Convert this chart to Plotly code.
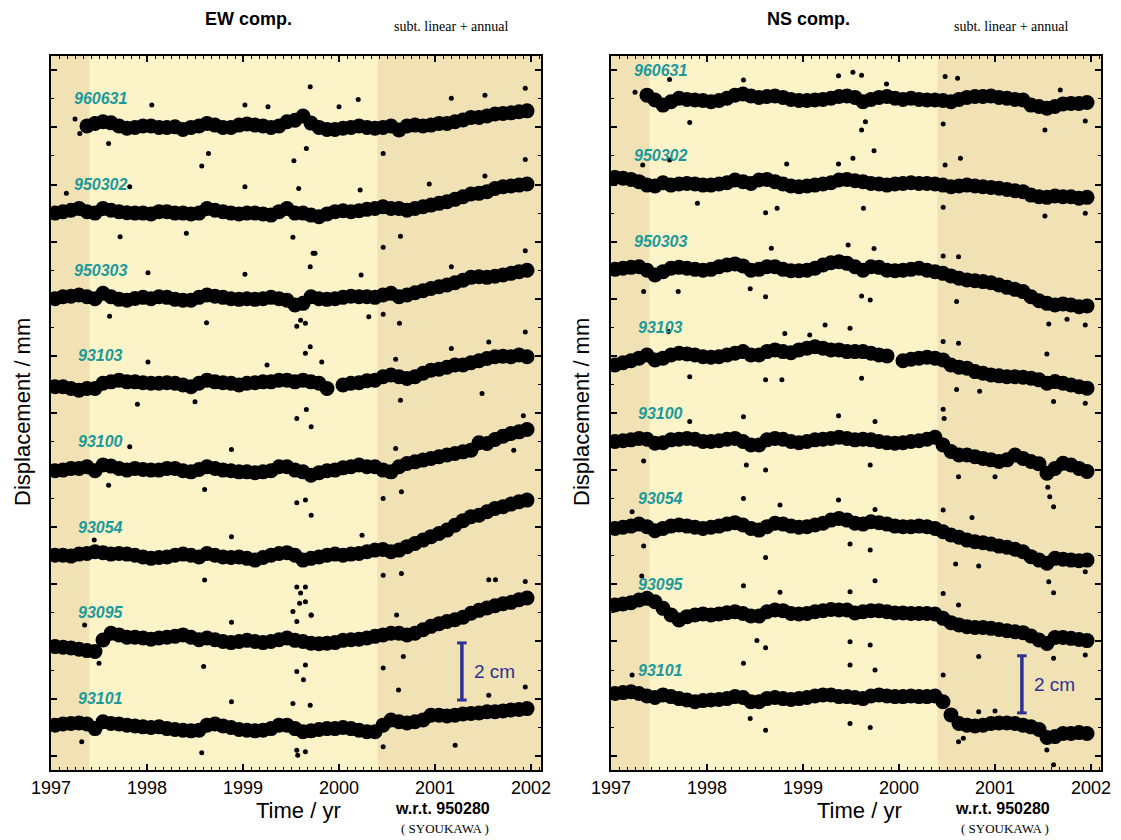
import plotly.graph_objects as go

# ---------------- data ----------------
stations = ["960631", "950302", "950303", "93103", "93100", "93054", "93095", "93101"]
ew_offsets = [220, 190, 160, 130, 100, 70, 40, 10]
ns_offsets = [230, 200, 170, 140, 110, 80, 50, 20]
year_ticks = [1997, 1998, 1999, 2000, 2001, 2002]
# monthly epochs (mid-month) 1997.0 - 2002.0
epochs = [1997 + (k + 0.5) / 12 for k in range(60)]

# EW component, monthly level, deviation (mm) from each station's offset
ew_960631 = [None, None, None, None, 0.5, 1.4, 2.0, 1.6, 0.5, -0.3,
             0.0, 0.5, 0.5, 0.0, 0.0, 0.2, -0.7, 0.0, 0.5, 1.4,
             0.8, 0.0, 0.0, 0.8, 1.2, 0.8, 0.5, 0.0, 0.5, 2.0,
             2.5, 4.0, 1.5, 0.0, -0.7, -0.7, -0.3, 0.0, 0.5, 0.0,
             -0.3, 0.0, 0.5, -0.9, 0.5, 0.8, 0.5, 0.8, 1.4, 1.4,
             2.0, 2.6, 3.5, 3.5, 4.0, 4.7, 4.9, 5.1, 5.5, 5.8]
ew_950302 = [0, 0.5, 1, 1.6, 0.5, 0, 1.6, 1, 0.5, 0.1,
             0, 0, -0.3, 0.5, 0.5, 0, 0, -0.3, 0, 1.6,
             1, 0.5, 0, -0.3, 0, 0, -0.3, -0.7, 0.5, 1.6,
             0, 0, -0.7, -1.3, -0.3, 0.5, 0.8, 0.5, 0.8, 1.3,
             1.6, 2.2, 1.6, 1.6, 1, 1.6, 2.2, 2.8, 3.4, 4,
             4.8, 5.7, 6.7, 6.9, 7.5, 8.6, 9.2, 9.5, 9.8, 10.2]
ew_950303 = [0, 0.7, 0.9, 1.3, 0.7, 0, 1.9, 0.7, -0.2, -0.5,
             0.1, 0.5, 0, 0.7, 0.5, -0.2, -0.5, -0.5, 0.5, 1.3,
             0.9, 0.5, 0, -0.2, 0, -0.2, 0, 0.5, 0, -0.5,
             -2.2, -1.6, 0.7, 0, -0.2, 0, 0.5, 0.9, 0.7, 0.7,
             0.5, 1.3, 1.9, 0.7, 1.3, 2.1, 2.8, 3.6, 4.2, 4.8,
             5.6, 6.5, 7.5, 7.7, 7.5, 7.9, 8.3, 8.9, 9.5, 10]
ew_93103 = [-0.8, -0.8, -1.4, -2, -1.4, -1.4, 0.4, 0.9, 1.5, 0.9,
            0.9, 0.6, 0.4, 0.4, 0.6, 0.4, -0.2, -0.8, 0.4, 1.5,
            0.9, 0.6, 0.4, -0.2, 0.4, 0.6, 0.9, 0.9, 1.5, 1.5,
            0.9, 1.5, 0.9, 0.4, -1.4, None, -0.2, 0.4, 0.6, 1.3,
            1.5, 2.7, 3.3, 2.7, 2.1, 2.7, 3.9, 5, 5.3, 6,
            6.8, 6.8, 7.6, 8.3, 9.1, 9.7, 9.9, 9.7, 10.3, 9.7]
ew_93100 = [-0.2, 0, 0.6, 0.6, 1.2, -0.2, 1.8, 1.4, 0.6, 0,
            0.6, 0.2, 0, 0, 0.6, 0.6, -0.2, -0.6, 0.2, 1.2,
            0.6, 0, -0.2, -0.6, -0.6, -0.9, -0.6, -0.2, 1.2, 1.2,
            0, -0.6, -1.8, -0.9, -0.2, 0, 0.8, 1.2, 1.8, 1.2,
            1.2, 0, -0.6, 1.2, 2.3, 2.9, 3.5, 4.1, 4.7, 5.3,
            5.8, 6.4, 7, 9.6, 9.3, 10.7, 11.9, 12.8, 13.4, 14.2]
ew_93054 = [0.2, 0.2, -0.1, 0.6, 0.8, 1.4, 1.1, 0.6, 0.8, 0.6,
            0.2, -0.4, -0.9, -0.6, -0.4, 0.2, 0.6, 0.2, -0.4, 0.8,
            0.2, -0.4, -0.6, -0.4, -0.9, -1.5, -0.6, 0.2, 0.8, 1.1,
            0.2, -1.5, -0.9, -0.4, 0.2, 0.6, 0.2, 0.6, 0.8, 1.4,
            2, 2.2, 1.4, 2, 3.2, 4.3, 5.5, 6.7, 7.8, 9,
            10.7, 12.3, 13.7, 14.2, 15.4, 16.6, 17.2, 18.1, 18.9, 19.5]
ew_93095 = [-1.8, -2, -2.3, -2.7, -3.2, -3.5, 0.5, 2.9, 2.3, 1.5,
            1.5, 1.2, 0.8, 1.2, 1.5, 1.8, 2.3, 1.5, 0.6, 1.2,
            0.6, 0, -0.4, 0, 0.4, 0, -0.4, 0, 0.6, 1.2,
            0.4, 0, -0.6, -0.8, -0.6, -0.4, 0.4, 0.6, 0.8, 1.2,
            1.8, 2.3, 2.9, 2.9, 2.3, 2.9, 4.1, 5.3, 6.2, 7,
            7.6, 8.5, 9.9, 10.9, 11.7, 12.5, 13.2, 13.7, 14.6, 15.2]
ew_93101 = [0.7, 1.1, 1.3, 1.5, 1.1, -0.5, 1.9, 1.3, 1.1, 0.7,
            0.4, 0.1, -0.1, 0.1, -0.5, -0.8, -1.1, -1.3, -1.1, 0.7,
            1.1, 0.4, -0.1, -0.8, -1.1, -1.3, -1.1, -0.5, 0.7, 0.7,
            -0.5, -1.6, -1.3, -0.8, -0.5, -0.5, -0.1, -0.5, -1.1, -1.6,
            -1.6, 0.7, 2.5, 1.9, 1.5, 1.9, 2.5, 4.2, 4.2, 3.9,
            4.2, 4.6, 4.8, 5, 5.4, 5.4, 5.7, 6, 6.2, 6.5]

# NS component, monthly level, deviation (mm) from each station's offset
ns_960631 = [None, None, None, None, 1.3, -0.4, -2.2, -1, 0.2, -0.2,
             -0.4, -0.6, -1, -0.6, 0.2, 1.3, 1.7, 1, 0.5, 0.8,
             1, 0.5, -0.2, -0.6, -0.6, -0.4, -0.2, 0.2, 0.8, 1,
             0.5, -1, -0.2, 0.5, 0.8, 0.2, -0.2, 0.2, -0.2, -0.4,
             -0.4, -0.6, -1, -0.2, 0.5, 0.8, 0.8, 1, 0.5, 0.2,
             -0.2, -0.4, -2.2, -2.7, -3.3, -2.7, -1.8, -1.6, -1.6, -1.3]
ns_950302 = [2.5, 2.2, 1.8, 1, -0.2, -0.5, 0.6, -0.2, 0.2, 0.4,
             0.2, -0.2, -0.2, 0.2, 0.6, 1.6, 1, 0.4, 1.6, 1.8,
             1, 0.2, -0.5, -0.8, -0.5, -0.2, 0.2, 0.6, 1.6, 1.8,
             1.3, 1, 0.4, 0.2, -0.2, 0.2, 0.4, 0.6, 0.4, 0.4,
             0.2, -0.2, -0.8, -0.5, -0.2, -0.5, -0.8, -1, -1.3, -1.7,
             -2.2, -2.5, -3.7, -4.3, -4.5, -4, -4.3, -4.3, -4.8, -4.5]
ns_950303 = [0.3, 0.7, 1, 1.2, 0, -1.7, -0.5, 0.7, 1, 0.7,
             0.3, 0, 0.3, 1.2, 1.8, 2.2, 1.5, 0, 0.3, 1.2,
             1.2, 0.3, -0.2, -0.2, 0, 0.7, 1.8, 2.6, 3, 2.4,
             1.2, 0, 1.2, 1, 0, -0.2, 0, 0.3, 0.7, 0,
             -0.5, -1.1, -2, -2.8, -3.4, -3.7, -4, -4.4, -5.2, -6,
             -6.7, -7.5, -9.3, -10.7, -11.6, -12.2, -11.8, -12.2, -12.8, -12.5]
ns_93103 = [-3.2, -2.4, -1.7, -0.8, 0.3, -1.4, -0.8, 0.3, 0.9, 0.7,
            0.3, -0.3, -0.5, -0.3, 0.3, 0.9, 1.5, 0.3, 0.3, 1.5,
            2.1, 1.5, 1.1, 2.1, 2.7, 3.2, 2.7, 2.1, 2.1, 1.5,
            1.5, 1.5, 0.9, 0.3, 0, None, -1.7, -1.2, -0.8, -0.5,
            -0.8, -1.4, -3.2, -4, -4.3, -5.5, -6.1, -6.7, -7, -7.3,
            -7.3, -7.5, -7.8, -8.4, -9.6, -9, -9.6, -10.2, -10.8, -11.3]
ns_93100 = [0, 0.3, 0.6, 1.1, 0.8, -0.6, -0.4, 0.6, 0.8, 1.1,
            0.8, 0, 0, 0.3, 0.8, 1.1, 0, -1.2, -1.2, 0.6,
            1.1, 0.8, 0, -0.4, 0, 0.6, 0.8, 1.1, 1.5, 1.1,
            0.6, 0.8, 0.6, 0, -0.4, -0.6, -0.4, 0, 0.3, 0.8,
            1.5, -1.2, -3.5, -4.7, -4.7, -5.3, -5.9, -6.4, -7, -6.4,
            -4.7, -5.9, -7, -7.8, -11.1, -9.4, -7.6, -8.2, -9.4, -10.5]
ns_93054 = [-0.4, 0, 0.4, 1.1, 0.2, -1.2, -0.4, 0.4, 0.8, 0.4,
            0, -0.4, 0, 0.4, 1.1, 1.6, 0.8, -0.4, -1, 0.2,
            1.4, 1.1, 0.4, 0, 0.2, 0.8, 1.4, 2.5, 3.1, 2.5,
            1.4, 1.1, 1.9, 1.6, 1.1, 0.4, 0.2, 0.2, 0.4, 0.2,
            -0.4, -1.6, -2.7, -3.5, -4.5, -5.1, -5.4, -5.9, -6.6, -7,
            -7.7, -8.6, -10.3, -11.5, -12.6, -10.9, -11.2, -11.5, -11.7, -11.5]
ns_93095 = [2.8, 3.1, 3.6, 4.5, 5.1, 3.9, 1.6, -0.7, -2.5, -1.3,
            -0.7, -0.4, -0.7, -0.4, 0.1, 0.4, -0.2, -1.1, -1.1, 0.4,
            1, 0.8, -0.2, -0.4, -0.2, 0.4, 0.8, 1.2, 1, 1,
            0, 0.4, 0.8, 0.8, 0.4, 0, 0, -0.2, -0.2, -0.2,
            -0.4, -1.9, -3.4, -4.2, -4.8, -5.1, -5.1, -5.4, -5.8, -6.2,
            -6.6, -6.9, -8.1, -9.5, -10.7, -8.6, -8.6, -8.9, -9.3, -9.7]
ns_93101 = [1.8, 2.1, 2.4, 1.8, 0.9, 0.4, 1.3, 0.7, 0, -0.5,
            -1.1, -0.7, -0.5, -0.3, 0, 0.7, 0.4, -1.1, -1.1, 0,
            0.4, 0, -0.3, 0, 0.4, 0.9, 1.3, 1.3, 0.7, 0.7,
            0.4, 0, 0.9, 1.3, 0.9, 0.7, 0.7, 0.9, 0.7, 0.7,
            0.9, -1.1, -5.7, -8.7, -9.3, -9.6, -9.3, -8.7, -8.5, -8.5,
            -8.7, -9.3, -9.9, -10.8, -13.6, -13.3, -12.2, -12.2, -11.9, -12.2]

# isolated outlying daily solutions: station, epoch, deviation (mm)
ew_out_stn = ["960631"] * 17 + ["950302"] * 14 + ["950303"] * 15 + ["93103"] * 13 \
    + ["93100"] * 15 + ["93054"] * 11 + ["93095"] * 17 + ["93101"] * 13
ew_out_t = [1999.70, 1999.53, 1998.57, 2000.46, 1997.25, 1997.30, 2000.20, 2001.94, 2001.52, 2001.17,
            1999.26, 1998.05, 1998.64, 1999.66, 1997.60, 1999.02, 2000.00,
            2000.46, 1999.73, 2000.64, 2001.94, 2000.94, 1999.58, 1999.02, 1997.72, 1997.16, 1998.41,
            1999.52, 2001.52, 2000.22, 1997.82,
            1999.75, 1999.70, 1999.56, 1999.65, 2000.63, 2000.31, 1998.62, 1997.61, 2001.94, 1998.01,
            2001.17, 1999.02, 2000.23, 2000.46, 1999.60,
            1999.70, 1999.65, 2001.94, 2001.17, 2001.56, 1998.01, 1999.82, 1997.90, 1998.50, 2000.64,
            2001.49, 2000.59, 1999.25,
            1999.56, 1999.71, 1999.66, 1999.56, 1999.65, 1999.71, 2000.46, 2000.59, 2001.92, 2001.82,
            1998.88, 1997.60, 1998.60, 1997.82, 2000.65,
            1999.56, 1999.65, 1999.65, 1999.71, 2000.46, 2000.65, 1998.60, 1998.88, 2000.24, 1999.60,
            1997.45,
            1999.56, 1999.65, 1999.63, 2000.46, 1999.56, 1999.59, 1999.52, 1999.71, 1998.59, 1997.50,
            2001.56, 2001.63, 2001.94, 2000.60, 2000.67, 1998.88, 1997.35,
            1999.56, 1999.57, 1999.65, 1998.57, 2001.21, 2000.62, 2001.94, 2001.56, 1998.88, 1999.52,
            2000.46, 1997.32, 1999.70]
ew_out_dev = [14.2, -11.7, -13.5, -9.1, 2.9, -2.1, 9.8, 13.7, 11.3, 10.2,
              7.2, 7.8, -9.1, -7.4, -5.6, 7.8, 7.2,
              -12.0, -14.1, -8.1, 18.8, 10.2, 8.6, 9.2, -8.3, 6.9, -7.1,
              -8.5, 13.0, 8.1, 9.2,
              15.9, 11.2, -9.6, -8.6, -8.6, -6.3, -8.4, -6.1, 16.8, 9.1,
              11.2, 8.6, 8.3, -5.4, -7.5,
              13.2, 10.9, 18.4, 12.6, 14.9, 7.9, 7.9, -6.9, -6.1, -5.5,
              -3.2, 8.8, 6.8,
              18.1, 15.2, 21.2, -11.4, -10.5, -15.8, -9.9, 7.6, 19.0, 7.0,
              7.2, -5.3, -6.8, 8.2, -7.6,
              -10.9, -10.9, -16.1, -20.8, -6.8, -6.2, -8.5, 6.7, 7.2, -13.0,
              5.5,
              -10.5, -8.2, -13.4, -9.3, 7.0, 13.4, 10.5, 9.3, -8.8, -7.6,
              21.6, 21.6, 21.0, 9.3, -5.3, 6.7, 5.8,
              -8.1, -9.8, -8.6, -9.0, -6.3, 13.0, 14.1, 11.2, 8.9, 8.3,
              -6.9, -5.1, 7.7]

ns_out_stn = ["960631"] * 16 + ["950302"] * 15 + ["950303"] * 15 + ["93103"] * 16 \
    + ["93100"] * 15 + ["93054"] * 16 + ["93095"] * 14 + ["93101"] * 15
ns_out_t = [1999.52, 1999.37, 1999.61, 1999.61, 1999.65, 2000.46, 2001.52, 2001.94, 2000.61, 2000.48,
            1997.25, 1997.61, 1997.82, 1998.38, 2001.68, 1999.87,
            1999.74, 1999.52, 2000.64, 2000.48, 1999.37, 1998.61, 1998.73, 1999.63, 2000.46, 2001.52,
            2001.94, 1997.33, 1997.61, 1997.90, 1998.83,
            1999.74, 1999.47, 1999.61, 1999.70, 1998.61, 1997.70, 1997.34, 2000.62, 2000.46, 2001.56,
            2001.75, 2001.94, 1998.67, 2000.60, 1998.45,
            1999.23, 1999.07, 1998.81, 1999.49, 1997.82, 1998.78, 1998.61, 1999.61, 2000.60, 2000.84,
            2001.54, 2001.94, 2001.61, 1997.60, 2000.46, 2000.62,
            2000.46, 2000.47, 1999.37, 1998.38, 1999.75, 1998.61, 1998.41, 1999.70, 2001.61, 2001.57,
            2000.62, 1997.34, 2001.00, 1997.82, 2001.55,
            1998.38, 1999.37, 1998.76, 1999.75, 2000.46, 1998.61, 1999.70, 1999.49, 2000.59, 2000.83,
            2001.61, 2001.56, 2001.94, 1997.34, 1997.22, 2000.76,
            1999.75, 1998.38, 1998.76, 1999.49, 2000.46, 1998.61, 1998.52, 1999.70, 1999.49, 2000.83,
            2001.61, 2001.94, 2000.62, 1997.32,
            1998.38, 1999.49, 1999.75, 2000.46, 1998.61, 1999.70, 1999.49, 2000.62, 2001.61, 2001.54,
            2000.83, 2001.00, 1997.22, 2000.67, 1998.45]
ns_out_dev = [9.3, 8.1, 8.3, -10.9, -8.0, -8.8, -10.9, -7.8, 7.2, 7.8,
              2.3, 6.8, -8.3, 6.6, 3.1, 5.2,
              11.8, 9.2, 9.2, 6.8, 7.2, -9.9, -8.3, -8.3, -8.0, -11.0,
              -10.1, 6.8, 8.6, -6.6, 7.2,
              7.6, 8.8, -9.0, -10.4, -9.3, -7.5, -7.5, 4.7, 5.0, -18.8,
              -17.2, -19.2, 7.7, -11.0, -6.5,
              10.8, 7.3, 7.8, 9.7, -7.3, -8.4, -8.4, -7.8, -11.8, -12.4,
              0.7, -16.6, -16.0, 8.5, 5.0, 4.4,
              11.3, 8.1, 9.0, 8.7, 7.0, -10.0, -8.2, -8.2, -22.8, -19.3,
              -12.3, -6.8, -12.3, 7.0, -16.0,
              10.1, 9.5, 7.8, 6.2, 6.0, -10.6, -8.0, -5.9, -12.9, -13.6,
              -22.9, -19.1, -15.6, -6.6, 5.4, 3.4,
              11.3, 9.5, 7.2, 7.4, 6.8, -12.2, -9.7, -11.2, -10.1, -15.3,
              -15.9, -14.7, 2.8, 12.9,
              12.4, 11.8, 10.0, 8.3, -11.1, -10.1, -8.7, -15.1, -23.2, -18.0,
              -4.6, -4.3, 8.3, -13.9, -7.0]

ew_series = [ew_960631, ew_950302, ew_950303, ew_93103, ew_93100, ew_93054, ew_93095, ew_93101]
ns_series = [ns_960631, ns_950302, ns_950303, ns_93103, ns_93100, ns_93054, ns_93095, ns_93101]

# ---------------- styling ----------------
W, H = 1121, 840
DARK = "#F0E2B5"
LIGHT = "#FDF3C9"
TEAL = "#1A9A9A"
BLUE = "#2E3192"
SANS = "Liberation Sans, Arial, sans-serif"
SERIF = "Liberation Serif, Times New Roman, serif"
light_span = (1997.4, 2000.4)
bar_x = 2001.28
ew_bar = (19.5, 39.5)
ns_bar = (15, 35)

fig = go.Figure()


def add_panel(series, offsets, out_stn, out_t, out_dev, xa, ya):
    off_of = dict(zip(stations, offsets))
    fig.add_trace(go.Scatter(
        x=out_t, y=[off_of[s] + d for s, d in zip(out_stn, out_dev)],
        mode="markers", showlegend=False, hoverinfo="skip",
        marker=dict(color="black", size=5, line=dict(width=0)),
        xaxis=xa, yaxis=ya))
    for name, off, vals in zip(stations, offsets, series):
        fig.add_trace(go.Scatter(
            x=epochs, y=[None if v is None else off + v for v in vals],
            mode="markers", name=name, showlegend=False,
            marker=dict(color="black", size=15, line=dict(width=0)),
            xaxis=xa, yaxis=ya, hoverinfo="skip"))


add_panel(ew_series, ew_offsets, ew_out_stn, ew_out_t, ew_out_dev, "x", "y")
add_panel(ns_series, ns_offsets, ns_out_stn, ns_out_t, ns_out_dev, "x2", "y2")

xcommon = dict(range=[1997, 2002.104], tickmode="linear", tick0=1997, dtick=1,
               ticks="inside", ticklen=6, tickwidth=1.5, tickcolor="black",
               showline=True, linewidth=2, linecolor="black", mirror="ticks",
               showgrid=False, zeroline=False, automargin=False,
               minor=dict(tick0=1997, dtick=1 / 12, ticks="inside", ticklen=3,
                          tickwidth=1, tickcolor="black", showgrid=False),
               tickfont=dict(family=SANS, size=18, color="black"))
ycommon = dict(range=[-5, 245], tickmode="linear", tick0=0, dtick=20,
               ticks="inside", ticklen=6, tickwidth=1.5, tickcolor="black",
               showline=True, linewidth=2, linecolor="black", mirror="ticks",
               showgrid=False, zeroline=False, showticklabels=False, automargin=False,
               minor=dict(tick0=0, dtick=10, ticks="inside", ticklen=3,
                          tickwidth=1, tickcolor="black", showgrid=False),
               domain=[70 / H, 784 / H])

fig.update_layout(
    width=W, height=H, margin=dict(l=0, r=0, t=0, b=0, autoexpand=False),
    paper_bgcolor="white", plot_bgcolor=DARK,
    xaxis=dict(domain=[51 / W, 541 / W], anchor="y", **xcommon),
    yaxis=dict(anchor="x", **ycommon),
    xaxis2=dict(domain=[611 / W, 1101 / W], anchor="y2", **xcommon),
    yaxis2=dict(anchor="x2", **ycommon),
)

shapes = []
anns = []
for xr, yr, offs, bar, tx, cx in [("x", "y", ew_offsets, ew_bar, "EW comp.", 0),
                                   ("x2", "y2", ns_offsets, ns_bar, "NS comp.", 560)]:
    shapes.append(dict(type="rect", xref=xr, yref=yr + " domain", x0=light_span[0], x1=light_span[1],
                       y0=0, y1=1, fillcolor=LIGHT, line=dict(width=0), layer="below"))
    # 2 cm scale bar
    shapes.append(dict(type="line", xref=xr, yref=yr, x0=bar_x, x1=bar_x, y0=bar[0], y1=bar[1],
                       line=dict(color=BLUE, width=3.5)))
    for yb in bar:
        shapes.append(dict(type="line", xref=xr, yref=yr, x0=bar_x - 0.05, x1=bar_x + 0.05, y0=yb, y1=yb,
                           line=dict(color=BLUE, width=3)))
    anns.append(dict(xref=xr, yref=yr, x=bar_x + 0.11, y=(bar[0] + bar[1]) / 2, text="2 cm",
                     showarrow=False, xanchor="left", yanchor="middle",
                     font=dict(family=SANS, size=19, color=BLUE)))
    for name, off in zip(stations, offs):
        anns.append(dict(xref=xr, yref=yr, x=1997.52, y=off + 10, text=name, showarrow=False,
                         xanchor="center", yanchor="middle",
                         font=dict(family=SANS, size=16, color=TEAL, weight="bold", style="italic")))
    # titles & texts
    anns.append(dict(xref="paper", yref="paper", x=(248 + cx) / W, y=1 - 19 / H, text=tx,
                     showarrow=False, xanchor="center", yanchor="middle",
                     font=dict(family=SANS, size=18, color="black", weight="bold")))
    anns.append(dict(xref="paper", yref="paper", x=(451 + cx) / W, y=1 - 26 / H, text="subt. linear + annual",
                     showarrow=False, xanchor="center", yanchor="middle",
                     font=dict(family=SERIF, size=14, color="black")))
    anns.append(dict(xref="paper", yref="paper", x=(299 + cx) / W, y=1 - 810 / H, text="Time / yr",
                     showarrow=False, xanchor="center", yanchor="middle",
                     font=dict(family=SANS, size=22, color="black")))
    anns.append(dict(xref="paper", yref="paper", x=(442 + cx) / W, y=1 - 808 / H, text="w.r.t. 950280",
                     showarrow=False, xanchor="center", yanchor="middle",
                     font=dict(family=SANS, size=16, color="black", weight="bold")))
    anns.append(dict(xref="paper", yref="paper", x=(445 + cx) / W, y=1 - 828 / H, text="( SYOUKAWA )",
                     showarrow=False, xanchor="center", yanchor="middle",
                     font=dict(family=SERIF, size=13, color="black")))
    anns.append(dict(xref="paper", yref="paper", x=(22 + cx - (1 if cx else 0)) / W, y=1 - 412 / H,
                     text="Displacement / mm", textangle=-90,
                     showarrow=False, xanchor="center", yanchor="middle",
                     font=dict(family=SANS, size=22, color="black")))

fig.update_layout(shapes=shapes, annotations=anns)
fig.write_html("out.html")
